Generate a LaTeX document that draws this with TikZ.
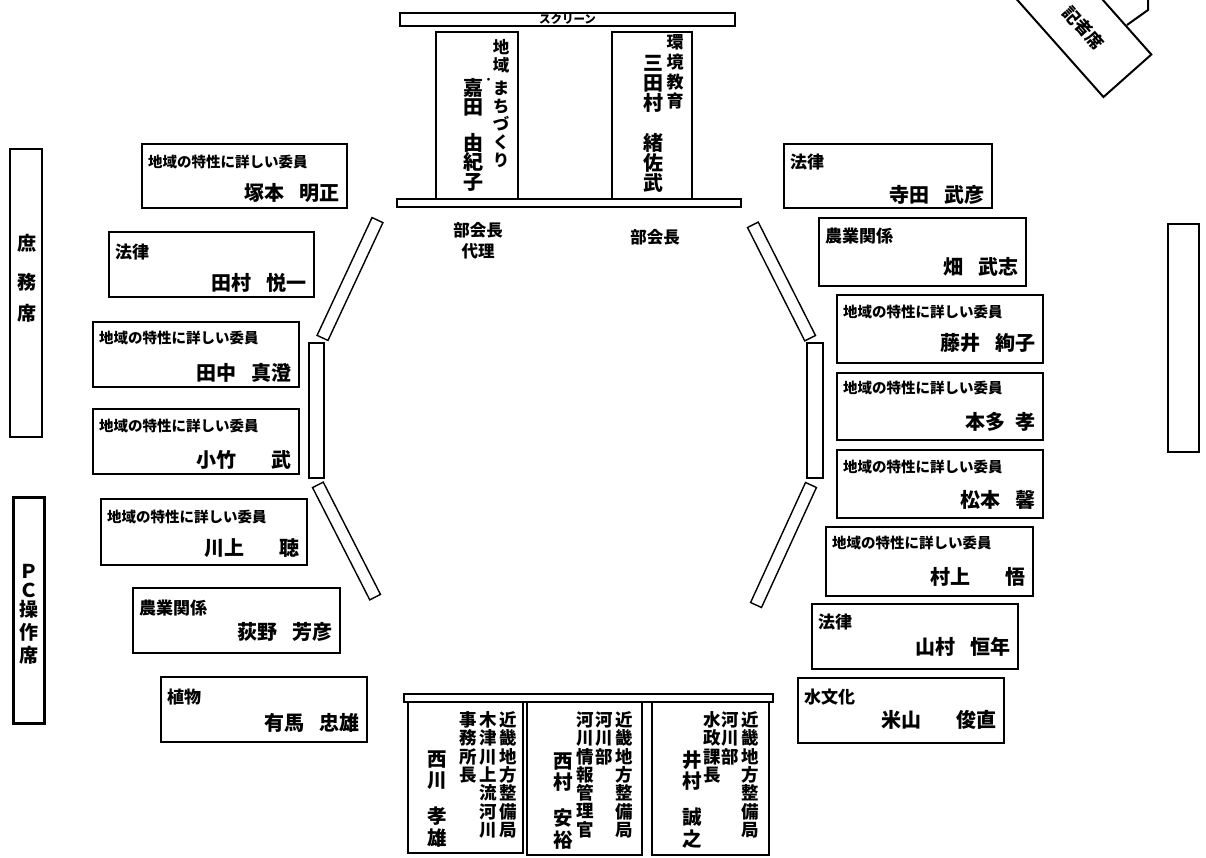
\documentclass[tikz,border=0pt]{standalone}
\usepackage{fontspec}
\setmainfont{Noto Sans CJK JP}
\newcommand\sep{\hspace{0.75em}}
\newcommand\sepp{\hspace{1.75em}}
\newcommand\lsm[1]{{\fontsize{14.5}{16}\selectfont #1}}
\newcommand\seatbox[9]{%
  \node[pbox, minimum width={#4-#2}, minimum height={#5-#3}] (#1) at ({(#2+#4)/2},{(#3+#5)/2}) {};
  \node[lab, anchor=west] (#1-l) at ({#2+6},#7) {#6};
  \node[nm, anchor=east] (#1-n) at ({#4-7},#9) {#8};
}
\tikzset{
  pbox/.style={draw, line width=2.4pt, inner sep=0pt, fill=white},
  thinbox/.style={draw, line width=2pt, inner sep=0pt, fill=white},
  lab/.style={inner sep=0pt, font=\bfseries\fontsize{17}{19}\selectfont},
  nm/.style={inner sep=0pt, font=\bfseries\fontsize{20}{22}\selectfont},
  chair/.style={draw, line width=1.4pt, inner sep=0pt, fill=white},
  vcol/.style={inner sep=0pt, align=center, anchor=north},
  colA/.style={vcol, font=\bfseries\fontsize{17.5}{18.3}\selectfont},
  colN/.style={vcol, font=\bfseries\fontsize{19.5}{21.5}\selectfont},
}
\begin{document}
\begin{tikzpicture}[x=1pt,y=-1pt]
\useasboundingbox (0,0) rectangle (1206,858);
\clip (0,0) rectangle (1206,858);

% ---- top: screen and chairs of the chair persons
\node[thinbox, line width=2.2pt, minimum width=335, minimum height=13] (screen) at (567.5,19.5) {};
\node[inner sep=0pt, font=\bfseries\fontsize{11.5}{12}\selectfont] (screen-t) at (567.5,19) {スクリーン};
\node[thinbox, line width=2.2pt, minimum width=82, minimum height=167] (kada) at (477,115.5) {};
\node[thinbox, line width=2.2pt, minimum width=80, minimum height=167] (mitamura) at (652,115.5) {};
\node[thinbox, line width=1.6pt, minimum width=344, minimum height=8] (table) at (569,203) {};

\node[vcol, font=\bfseries\fontsize{16.5}{18}\selectfont] (kada-a) at (501,39.5) {地\\域\\[4.5pt]ま\\ち\\づ\\く\\り};
\node[inner sep=0pt, font=\bfseries\fontsize{10}{10}\selectfont] (kada-dot) at (488.5,80.5) {・};
\node[vcol, font=\bfseries\fontsize{20}{19.5}\selectfont] (kada-n) at (473,78) {嘉\\田\\[16pt]由\\紀\\子};
\node[vcol, font=\bfseries\fontsize{17}{19.7}\selectfont] (mitamura-a) at (675,34.5) {環\\境\\教\\育};
\node[vcol, font=\bfseries\fontsize{20}{20}\selectfont] (mitamura-n) at (653,55) {三\\田\\村\\[20pt]緒\\佐\\武};

\node[inner sep=0pt, align=center, font=\bfseries\fontsize{16.5}{21}\selectfont] (vice) at (478,240.5) {部会長\\代理};
\node[inner sep=0pt, font=\bfseries\fontsize{16.5}{21}\selectfont] (chairp) at (655,237.5) {部会長};

% ---- side boxes
\node[thinbox, minimum width=32, minimum height=288] (shomu) at (26,293) {};
\node[vcol, font=\bfseries\fontsize{19}{19}\selectfont] (shomu-t1) at (27,234) {庶};
\node[vcol, font=\bfseries\fontsize{19}{19}\selectfont] (shomu-t2) at (27,273) {務};
\node[vcol, font=\bfseries\fontsize{19}{19}\selectfont] (shomu-t3) at (27,304) {席};

\node[thinbox, line width=3pt, minimum width=31, minimum height=226] (pc) at (28.5,610) {};
\node[vcol, font=\bfseries\fontsize{19}{19}\selectfont] (pc-t) at (29,564) {Ｐ\\Ｃ\\操\\[4pt]作\\[4pt]席};

\node[thinbox, line width=2.6pt, minimum width=31, minimum height=228] (rightbox) at (1183.5,338) {};

% ---- chairs around the table
\node[chair, minimum width=130, minimum height=12, rotate=65] (c-ul) at (350,279) {};
\node[chair, minimum width=15, minimum height=135] (c-ml) at (316.5,410.5) {};
\node[chair, minimum width=126, minimum height=12, rotate=-63] (c-ll) at (346.5,541) {};
\node[chair, minimum width=127, minimum height=12, rotate=-63.2] (c-ur) at (781.5,281.5) {};
\node[chair, minimum width=16, minimum height=135] (c-mr) at (815,410.5) {};
\node[chair, minimum width=132, minimum height=12, rotate=65.4] (c-lr) at (783.5,545) {};

% ---- left members
\seatbox{tsukamoto}{142}{144}{347}{208}{\lsm{地域の特性に詳しい委員}}{162}{塚本\sep 明正}{193}
\seatbox{tamura}{109}{232}{314}{297}{法律}{252}{田村\sep 悦一}{283}
\seatbox{tanaka}{93}{322}{299}{387}{\lsm{地域の特性に詳しい委員}}{338}{田中\sep 真澄}{373}
\seatbox{kotake}{93}{409}{299}{474}{\lsm{地域の特性に詳しい委員}}{426}{小竹\sepp 武}{460}
\seatbox{kawakami}{101}{499}{307}{565}{\lsm{地域の特性に詳しい委員}}{517}{川上\sepp 聴}{548}
\seatbox{ogino}{133}{588}{340}{653}{農業関係}{608}{荻野\sep 芳彦}{632}
\seatbox{arima}{161}{677}{367}{742}{植物}{697}{有馬\sep 忠雄}{723}

% ---- right members
\seatbox{terada}{784}{144}{992}{208}{法律}{162}{寺田\sep 武彦}{195}
\seatbox{hata}{819}{218}{1026}{286}{農業関係}{236}{畑\sep 武志}{267}
\seatbox{fujii}{837}{295}{1043}{363}{\lsm{地域の特性に詳しい委員}}{312}{藤井\sep 絢子}{343}
\seatbox{honda}{837}{373}{1043}{440}{\lsm{地域の特性に詳しい委員}}{388}{本多\hspace{0.5em}孝}{422}
\seatbox{matsumoto}{837}{450}{1043}{518}{\lsm{地域の特性に詳しい委員}}{467}{松本\sep 馨}{500}
\seatbox{murakami}{826}{527}{1033}{596}{\lsm{地域の特性に詳しい委員}}{543}{村上\sepp 悟}{577}
\seatbox{yamamura}{812}{604}{1018}{669}{法律}{622}{山村\sep 恒年}{647}
\seatbox{yoneyama}{798}{678}{1004}{743}{水文化}{697}{米山\sepp 俊直}{720}

% ---- bottom: bureau staff
\node[thinbox, line width=2.6pt, minimum width=369, minimum height=8] (bar) at (588.5,698) {};
\node[thinbox, minimum width=115, minimum height=151] (nishikawa) at (465.5,777.5) {};
\node[pbox, minimum width=115, minimum height=153] (nishimura) at (584.5,778.5) {};
\node[pbox, minimum width=117, minimum height=153] (imura) at (710.5,778.5) {};

\node[colA] (nk-1) at (508,711.5) {近\\畿\\地\\方\\整\\備\\局};
\node[colA] (nk-2) at (488,711.5) {木\\津\\川\\上\\流\\河\\川};
\node[colA] (nk-3) at (468,711.5) {事\\務\\所\\長};
\node[colN] (nk-n) at (437,750.5) {西\\川\\[14.5pt]孝\\雄};

\node[colA] (nm-1) at (624,711.5) {近\\畿\\地\\方\\整\\備\\局};
\node[colA] (nm-2) at (604,711.5) {河\\川\\部};
\node[colA] (nm-3) at (585,711.5) {河\\川\\情\\報\\管\\理\\官};
\node[colN] (nm-n) at (563,752.5) {西\\村\\[14.5pt]安\\裕};

\node[colA] (im-1) at (750,711.5) {近\\畿\\地\\方\\整\\備\\局};
\node[colA] (im-2) at (730,711.5) {河\\川\\部};
\node[colA] (im-3) at (712,711.5) {水\\政\\課\\長};
\node[colN] (im-n) at (692,750.5) {井\\村\\[14.5pt]誠\\之};

% ---- top right: press seats
\coordinate (pr-a) at (1127,25);
\coordinate (pr-b) at (1148,10);
\coordinate (pr-c) at (1148,-3);
\draw[line width=2pt] (pr-a) -- (pr-b) -- (pr-c);
\node[thinbox, minimum width=200, minimum height=64, rotate=-48.4] (press) at (1061,1) {};
\node[inner sep=0pt, rotate=-48.4, font=\bfseries\fontsize{17}{19}\selectfont] (press-t) at (1083.5,28) {記者席};
\end{tikzpicture}
\end{document}
